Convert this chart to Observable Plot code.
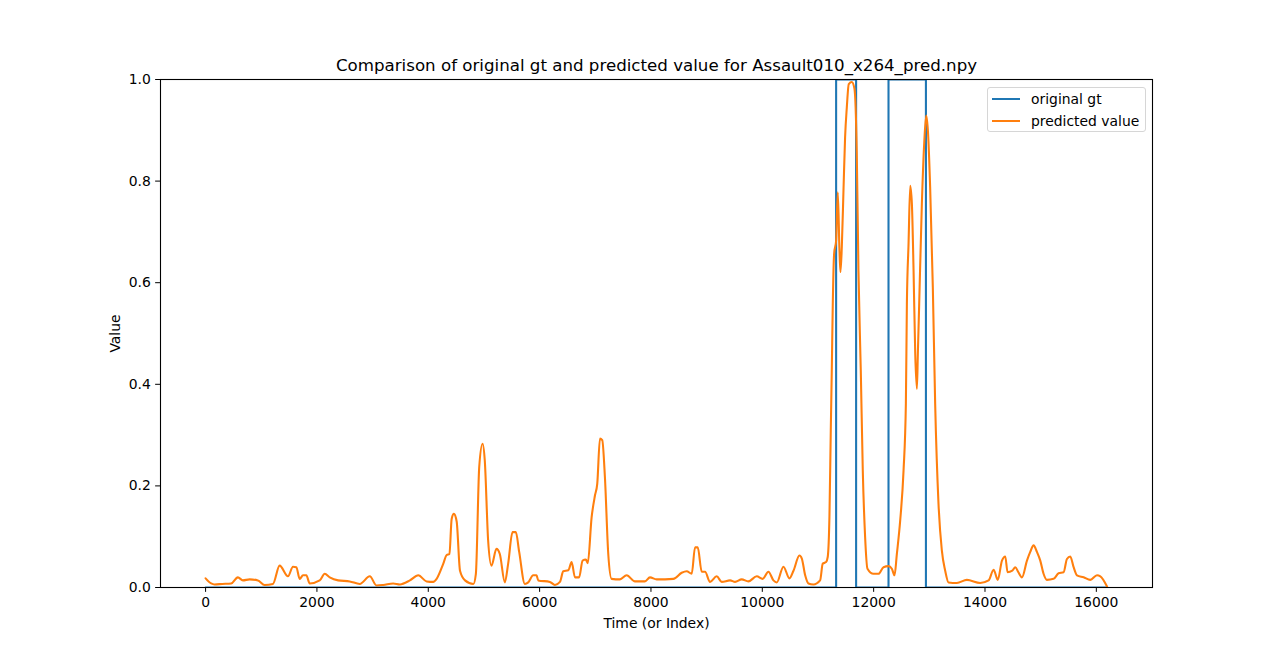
<!DOCTYPE html>
<html>
<head>
<meta charset="utf-8">
<script src="https://cdn.jsdelivr.net/npm/d3@7"></script>
<script src="https://cdn.jsdelivr.net/npm/@observablehq/plot@0.6"></script>
<style>
  html, body { margin: 0; padding: 0; background: #fff; }
  #wrap { position: relative; width: 1280px; height: 660px; font-family: "DejaVu Sans", sans-serif; }
  .legend { position: absolute; left: 987px; top: 87px; width: 157px; height: 43px;
            border: 1px solid #d6d6d6; border-radius: 3px; background: rgba(255,255,255,0.8);
            font-size: 13.9px; color: #000; }
  .legend .row { position: absolute; left: 0; height: 20px; width: 100%; }
  .legend .swatch { position: absolute; left: 4px; top: 9px; width: 28px; height: 2px; }
  .legend .lab { position: absolute; left: 43px; top: 0; line-height: 20px; white-space: nowrap; }
</style>
</head>
<body>
<div id="wrap"></div>
<script>
// ---- data ----
const chartTitle = "Comparison of original gt and predicted value for Assault010_x264_pred.npy";
const xLabel = "Time (or Index)";
const yLabel = "Value";
const seriesNames = ["original gt", "predicted value"];
const seriesColors = ["#1f77b4", "#ff7f0e"];

// ground-truth anomaly intervals (value 1 inside, 0 outside)
const gtLength = 16200;
const gtOnsets = [11326, 12267];
const gtOffsets = [11685, 12939];

// predicted values
const predX = [0,100,160,300,460,580,670,790,940,1060,1210,1330,1480,1570,1630,1690,1750,1810,1870,2050,2140,2230,2380,2590,2770,2950,3070,3190,3370,3490,3670,3820,3970,4090,4150,4270,4330,4380,4420,4460,4510,4570,4660,4810,4855,4915,4975,5015,5075,5135,5225,5285,5375,5435,5513,5573,5633,5735,5795,5885,5945,5975,6185,6275,6365,6425,6515,6575,6635,6710,6772,6830,6865,6934,6994,7035,7084,7125,7173,7233,7293,7443,7563,7713,7892,7982,8102,8402,8552,8642,8732,8792,8840,8912,8972,9061,9181,9271,9421,9511,9630,9750,9900,10007,10110,10200,10260,10380,10487,10560,10667,10710,10770,10828,10918,11038,11086,11146,11175,11206,11230,11248,11266,11290,11326,11356,11386,11404,11428,11458,11487,11518,11553,11607,11655,11697,11727,11769,11805,11847,11889,11997,12087,12177,12267,12327,12375,12417,12477,12537,12579,12597,12627,12657,12687,12717,12747,12777,12794,12818,12866,12908,12944,12974,13015,13063,13105,13165,13225,13285,13345,13495,13675,13914,14065,14155,14230,14305,14364,14406,14490,14544,14600,14664,14754,14813,14873,14933,14993,15052,15112,15232,15322,15412,15472,15532,15592,15652,15772,15892,16012,16072,16192];
const predY = [0.018,0.008,0.006,0.007,0.008,0.020,0.014,0.016,0.014,0.005,0.007,0.043,0.022,0.041,0.040,0.017,0.024,0.024,0.008,0.014,0.027,0.020,0.014,0.012,0.007,0.022,0.004,0.005,0.008,0.006,0.014,0.024,0.012,0.011,0.017,0.047,0.064,0.066,0.135,0.145,0.130,0.033,0.014,0.007,0.027,0.237,0.283,0.250,0.093,0.043,0.076,0.066,0.010,0.047,0.109,0.109,0.070,0.007,0.010,0.024,0.024,0.014,0.011,0.005,0.011,0.032,0.034,0.050,0.020,0.020,0.053,0.055,0.048,0.138,0.181,0.204,0.293,0.290,0.217,0.066,0.017,0.016,0.024,0.012,0.012,0.020,0.016,0.017,0.029,0.032,0.027,0.079,0.079,0.031,0.031,0.011,0.022,0.011,0.014,0.011,0.016,0.012,0.022,0.017,0.031,0.014,0.010,0.041,0.018,0.033,0.063,0.057,0.024,0.008,0.006,0.014,0.047,0.050,0.060,0.140,0.309,0.427,0.558,0.657,0.683,0.778,0.663,0.621,0.670,0.781,0.886,0.945,0.991,0.995,0.982,0.854,0.624,0.427,0.230,0.099,0.037,0.027,0.027,0.040,0.042,0.037,0.024,0.066,0.132,0.230,0.362,0.558,0.677,0.791,0.755,0.624,0.460,0.391,0.460,0.558,0.755,0.874,0.929,0.900,0.788,0.591,0.362,0.165,0.073,0.033,0.010,0.009,0.015,0.009,0.014,0.035,0.015,0.053,0.061,0.030,0.033,0.040,0.030,0.020,0.053,0.070,0.083,0.070,0.053,0.027,0.015,0.017,0.028,0.030,0.056,0.061,0.040,0.024,0.020,0.015,0.024,0.022,0.002];

const xTicks = [0, 2000, 4000, 6000, 8000, 10000, 12000, 14000, 16000];
const yTicks = [0.0, 0.2, 0.4, 0.6, 0.8, 1.0];

// ---- build tables ----
const gt = [{x: 0, y: 0}];
gtOnsets.forEach((on, i) => {
  const off = gtOffsets[i];
  gt.push({x: on, y: 0}, {x: on, y: 1}, {x: off, y: 1}, {x: off, y: 0});
});
gt.push({x: gtLength - 1, y: 0});

const pred = predX.map((x, i) => ({x, y: predY[i]}));

const xPad = (gtLength - 1) * 0.05;

const chart = Plot.plot({
  width: 1280,
  height: 660,
  marginLeft: 160,
  marginRight: 128,
  marginTop: 79,
  marginBottom: 73,
  style: {fontFamily: "DejaVu Sans, sans-serif", fontSize: "13.9px", color: "#000", background: "#fff"},
  x: {domain: [-xPad, gtLength - 1 + xPad]},
  y: {domain: [0, 1]},
  marks: [
    Plot.line(gt, {x: "x", y: "y", stroke: seriesColors[0], strokeWidth: 2.08, clip: true, strokeLinejoin: "round"}),
    Plot.line(pred, {x: "x", y: "y", stroke: seriesColors[1], strokeWidth: 2.08, clip: true, strokeLinejoin: "round", curve: "monotone-x"}),
    Plot.frame({stroke: "#000", strokeWidth: 1.1}),
    Plot.axisX(xTicks, {anchor: "bottom", tickSize: 4.86, tickPadding: 4.86, fontSize: 13.9, label: null, tickFormat: d3.format("d")}),
    Plot.axisY(yTicks, {anchor: "left", tickSize: 4.86, tickPadding: 4.86, fontSize: 13.9, label: null, tickFormat: d3.format(".1f")}),
    Plot.text([chartTitle], {text: d => d, frameAnchor: "top", dy: -8.3, lineAnchor: "bottom", textAnchor: "middle", fontSize: 16.67}),
    Plot.text([xLabel], {text: d => d, frameAnchor: "bottom", dy: 36, lineAnchor: "middle", textAnchor: "middle", fontSize: 13.9}),
    Plot.text([yLabel], {text: d => d, frameAnchor: "left", dx: -45, rotate: -90, lineAnchor: "middle", textAnchor: "middle", fontSize: 13.9})
  ]
});

const wrap = document.getElementById("wrap");
wrap.appendChild(chart);

// legend
const legend = document.createElement("div");
legend.className = "legend";
seriesNames.forEach((name, i) => {
  const row = document.createElement("div");
  row.className = "row";
  row.style.top = (1 + i * 22) + "px";
  const sw = document.createElement("div");
  sw.className = "swatch";
  sw.style.background = seriesColors[i];
  const lab = document.createElement("div");
  lab.className = "lab";
  lab.textContent = name;
  row.appendChild(sw);
  row.appendChild(lab);
  legend.appendChild(row);
});
wrap.appendChild(legend);
</script>
</body>
</html>
